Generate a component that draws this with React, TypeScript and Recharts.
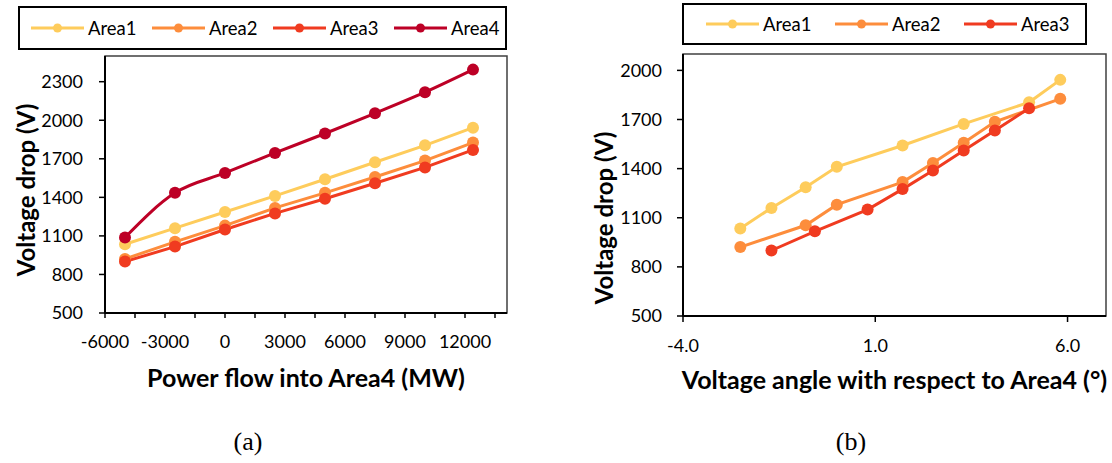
import React from 'react';
import { LineChart, Line, XAxis, YAxis, ReferenceArea, Label } from 'recharts';

const seriesNames = ['Area1', 'Area2', 'Area3', 'Area4'];
const seriesColors = ['#FECC5C', '#FD8D3C', '#F03B20', '#BD0026'];

// voltage drop per area (V), one value per operating point
const area1Drop = [1035, 1160, 1286, 1411, 1541, 1673, 1805, 1942];
const area2Drop = [921, 1054, 1180, 1318, 1435, 1558, 1686, 1826];
const area3Drop = [900, 1017, 1150, 1275, 1389, 1510, 1633, 1769];
const area4Drop = [1088, 1435, 1590, 1746, 1897, 2054, 2218, 2394];

// (a) power flow into Area4 (MW)
const powerFlow = [-5000, -2500, 0, 2500, 5000, 7500, 10000, 12400];

// (b) voltage angle of each area with respect to Area4 (deg)
const area1Angle = [-2.51, -1.7, -0.81, 0.0, 1.71, 3.3, 5.0, 5.81];
const area2Angle = [-2.51, -0.81, 0.0, 1.71, 2.5, 3.3, 4.11, 5.81];
const area3Angle = [-1.7, -0.57, 0.8, 1.71, 2.5, 3.3, 4.11, 5.0];

const flowTicks = [-6000, -4500, -3000, -1500, 0, 1500, 3000, 4500, 6000, 7500, 9000, 10500, 12000, 13500];
const dropTicksA = [500, 800, 1100, 1400, 1700, 2000, 2300];
const angleTicks = [-4, 1, 6];
const dropTicksB = [500, 800, 1100, 1400, 1700, 2000];

const flowRows = powerFlow.map((x, i) => ({
  x,
  Area1: area1Drop[i],
  Area2: area2Drop[i],
  Area3: area3Drop[i],
  Area4: area4Drop[i],
}));

const angleSets = [area1Angle, area2Angle, area3Angle];
const dropSets = [area1Drop, area2Drop, area3Drop];
const angleRows = angleSets.map((angles, s) => angles.map((x, i) => ({ x, y: dropSets[s][i] })));

const FONT = 'Lato, "Open Sans", sans-serif';
const tickStyle = { fontFamily: FONT, fontSize: 18, fill: '#000' };
const titleStyle: React.CSSProperties = { fontFamily: FONT, fontSize: 25, fontWeight: 700, fill: '#000' };

const LegendBox = ({ names, left, top, width, height, padLeft, pitch }: any) => (
  <div
    style={{
      position: 'absolute',
      left,
      top,
      width,
      height,
      boxSizing: 'border-box',
      border: '2px solid #000',
      paddingLeft: padLeft,
      display: 'flex',
      alignItems: 'center',
    }}
  >
    {names.map((n: string, i: number) => (
      <div key={n} style={{ width: pitch, display: 'flex', alignItems: 'center', flex: 'none' }}>
        <svg width={53} height={12} style={{ display: 'block' }}>
          <line x1={0} y1={6} x2={53} y2={6} stroke={seriesColors[i]} strokeWidth={3} />
          <circle cx={26.5} cy={6} r={4.5} fill={seriesColors[i]} />
        </svg>
        <span style={{ marginLeft: 4, fontFamily: FONT, fontSize: 18.5, color: '#000', lineHeight: '20px' }}>{n}</span>
      </div>
    ))}
  </div>
);

const xTitle = (text: string, dy: number) => (props: any) => {
  const { x, y, width } = props.viewBox;
  return (
    <text x={x + width / 2} y={y + dy} textAnchor="middle" style={titleStyle}>
      {text}
    </text>
  );
};

const panelTag = (text: string, dx: number) => (props: any) => {
  const { x } = props.viewBox;
  return (
    <text x={x + dx} y={450} textAnchor="middle" style={{ fontFamily: '"Liberation Serif", serif', fontSize: 26, fill: '#000' }}>
      {text}
    </text>
  );
};

const yTitle = (text: string, cx: number, cy: number) => () => (
  <text x={cx} y={cy} textAnchor="middle" transform={`rotate(-90, ${cx}, ${cy})`} style={{ ...titleStyle, fontSize: 24 }}>
    {text}
  </text>
);

const lineProps = (i: number) => ({
  stroke: seriesColors[i],
  strokeWidth: 3,
  dot: { r: 6, fill: seriesColors[i], stroke: 'none' },
  activeDot: false as const,
  isAnimationActive: false,
});

export default function App() {
  return (
    <div style={{ position: 'absolute', left: 0, top: 0, width: 1112, height: 463, background: '#fff', overflow: 'hidden' }}>
      <LegendBox names={seriesNames} left={18} top={6} width={489} height={44} padLeft={11} pitch={121} />
      <LegendBox names={seriesNames.slice(0, 3)} left={682} top={3} width={405} height={42} padLeft={22} pitch={129} />

      {/* (a) voltage drop vs power flow */}
      <div style={{ position: 'absolute', left: 0, top: 0 }}>
        <LineChart width={530} height={463} data={flowRows} margin={{ top: 56, right: 23, bottom: 0, left: 0 }}>
          <ReferenceArea x1={-6000} x2={14100} y1={500} y2={2500} fill="none" stroke="#404040" strokeWidth={1.5} ifOverflow="visible" />
          <XAxis
            dataKey="x"
            type="number"
            domain={[-6000, 14100]}
            ticks={flowTicks}
            interval={0}
            tickFormatter={(v: number) => (v % 3000 === 0 ? String(v) : '')}
            height={150}
            tick={tickStyle}
            tickSize={5}
            tickMargin={17}
            axisLine={{ stroke: '#000', strokeWidth: 2 }}
            tickLine={{ stroke: '#000', strokeWidth: 1.5 }}
          >
            <Label content={xTitle('Power flow into Area4 (MW)', 74)} />
            <Label content={panelTag('(a)', 143)} />
          </XAxis>
          <YAxis
            type="number"
            domain={[500, 2500]}
            ticks={dropTicksA}
            interval={0}
            width={105}
            tick={tickStyle}
            tickSize={6}
            tickMargin={16}
            axisLine={{ stroke: '#000', strokeWidth: 2 }}
            tickLine={{ stroke: '#000', strokeWidth: 1.5 }}
          >
            <Label content={yTitle('Voltage drop (V)', 35, 190)} />
          </YAxis>
          {seriesNames.map((n, i) => (
            <Line key={n} dataKey={n} type={n === 'Area4' ? 'monotone' : 'linear'} {...lineProps(i)} />
          ))}
        </LineChart>
      </div>

      {/* (b) voltage drop vs voltage angle */}
      <div style={{ position: 'absolute', left: 560, top: 0 }}>
        <LineChart width={552} height={463} margin={{ top: 54, right: 6, bottom: 0, left: 0 }}>
          <ReferenceArea x1={-4} x2={7} y1={500} y2={2100} fill="none" stroke="#404040" strokeWidth={1.5} ifOverflow="visible" />
          <XAxis
            dataKey="x"
            type="number"
            domain={[-4, 7]}
            ticks={angleTicks}
            interval={0}
            tickFormatter={(v: number) => v.toFixed(1)}
            height={147}
            tick={tickStyle}
            tickSize={6}
            tickMargin={17}
            axisLine={{ stroke: '#000', strokeWidth: 2 }}
            tickLine={{ stroke: '#000', strokeWidth: 1.5 }}
            allowDuplicatedCategory={false}
          >
            <Label content={xTitle('Voltage angle with respect to Area4 (°)', 73)} />
            <Label content={panelTag('(b)', 168)} />
          </XAxis>
          <YAxis
            type="number"
            domain={[500, 2100]}
            ticks={dropTicksB}
            interval={0}
            width={123}
            tick={tickStyle}
            tickSize={6}
            tickMargin={15}
            axisLine={{ stroke: '#000', strokeWidth: 2 }}
            tickLine={{ stroke: '#000', strokeWidth: 1.5 }}
          >
            <Label content={yTitle('Voltage drop (V)', 53, 218)} />
          </YAxis>
          {angleRows.map((rows, i) => (
            <Line key={seriesNames[i]} data={rows} dataKey="y" name={seriesNames[i]} type="linear" {...lineProps(i)} />
          ))}
        </LineChart>
      </div>
    </div>
  );
}
